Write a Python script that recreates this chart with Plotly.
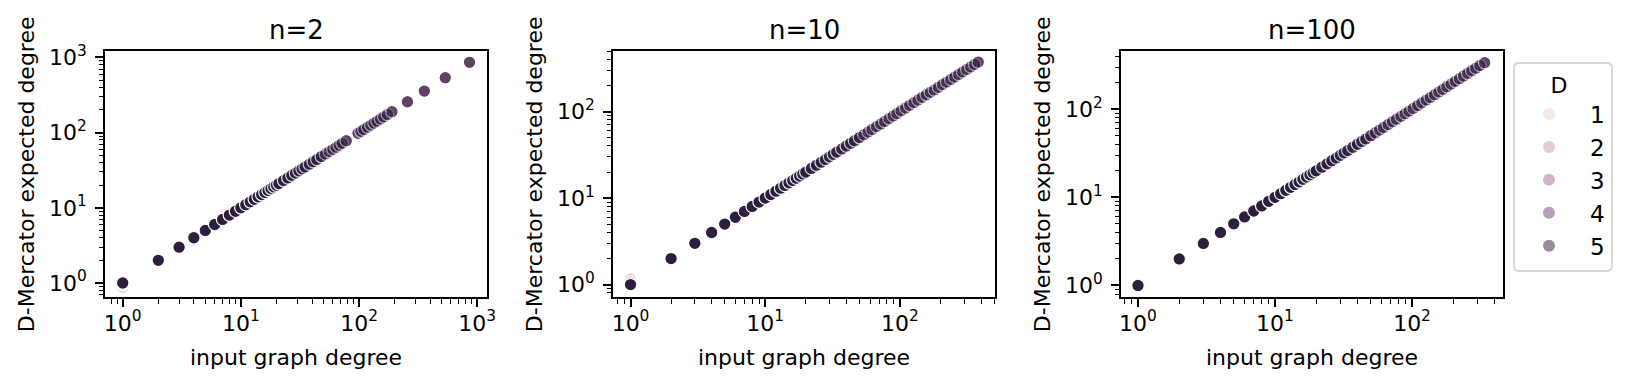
import plotly.graph_objects as go

# --- data (input degree -> D-Mercator expected degree) ---
D_values = [1, 2, 3, 4, 5]
panel_titles = ["n=2", "n=10", "n=100"]

# n = 2
deg_n2 = [1, 2, 3, 4, 5, 6, 7, 8, 9, 10, 11, 12, 13, 14, 15, 16, 17, 18, 19, 20,
          21, 23, 25, 27, 29, 31, 33, 35, 38, 41, 44, 48, 52, 56, 60, 64, 68, 72, 78,
          98, 104, 110, 118, 126, 134, 142, 152, 162, 174, 190, 257, 357, 537, 861]
nodes_n2 = [60, 40, 30, 24, 18, 15, 12, 10, 9, 8, 7, 6, 6, 5, 5, 4, 4, 4, 3, 3,
            3, 3, 3, 2, 2, 2, 2, 2, 2, 2, 2, 2, 1, 1, 1, 1, 1, 1, 1,
            1, 1, 1, 1, 1, 1, 1, 1, 1, 1, 1, 1, 1, 1, 1]
exp_n2_D1 = [0.88, 1.84, 2.96, 3.65, 4.9, 5.9, 6.9, 7.9, 8.9, 9.9, 10.9, 11.9, 12.9, 13.8, 14.8, 15.8, 16.8, 17.8, 18.8, 19.8,
             20.8, 22.7, 24.7, 26.7, 28.7, 30.6, 32.6, 34.6, 37.5, 40.5, 43.5, 47.4, 51.4, 55.4, 59.3, 63.3, 67.3, 71.2, 77.2,
             97, 103, 109, 117, 125, 133, 141, 151, 161, 173, 189, 256, 356, 536, 860]
exp_n2_D2 = [0.96, 1.93, 2.98, 3.82, 4.95, 5.95, 6.95, 7.95, 8.95, 9.95, 10.9, 11.9, 12.9, 13.9, 14.9, 15.9, 16.9, 17.9, 18.9, 19.9,
             20.9, 22.9, 24.8, 26.8, 28.8, 30.8, 32.8, 34.8, 37.8, 40.8, 43.7, 47.7, 51.7, 55.6, 59.6, 63.6, 67.6, 71.5, 77.5,
             97.5, 103, 109, 117, 125, 133, 141, 151, 161, 173, 189, 256, 356, 536, 860]
exp_n2_D3 = [0.99, 1.98, 2.99, 3.95, 4.98, 5.98, 6.98, 7.98, 8.97, 9.97, 10.97, 11.97, 12.97, 13.96, 14.96, 15.96, 16.96, 17.95, 18.95, 19.95,
             20.95, 22.95, 24.9, 26.9, 28.9, 30.9, 32.9, 34.9, 37.9, 40.9, 43.9, 47.8, 51.8, 55.8, 59.8, 63.8, 67.8, 71.8, 77.7,
             97.7, 103.6, 109.6, 117.5, 125.5, 133.5, 141.5, 151.4, 161.4, 173.4, 189.3, 256, 356, 536, 860]
exp_n2_D4 = [1, 1.99, 3, 3.98, 4.99, 5.99, 6.99, 7.99, 8.99, 9.99, 10.99, 11.99, 12.99, 13.99, 14.99, 15.99, 16.98, 17.98, 18.98, 19.98,
             20.98, 22.98, 24.97, 26.97, 28.97, 30.97, 32.96, 34.96, 37.96, 40.96, 43.95, 47.95, 51.95, 55.94, 59.94, 63.93, 67.93, 71.93, 77.9,
             97.9, 103.9, 109.9, 117.8, 125.8, 133.8, 141.8, 151.7, 161.7, 173.7, 189.6, 256.5, 356.5, 536.5, 860.5]
exp_n2_D5 = [1, 2, 3, 4, 5, 6, 7, 8, 9, 10, 11, 12, 13, 14, 15, 16, 17, 18, 19, 20,
             21, 23, 25, 27, 29, 31, 33, 35, 38, 41, 44, 48, 52, 56, 60, 64, 68, 72, 78,
             98, 104, 110, 118, 126, 134, 142, 152, 162, 174, 190, 257, 357, 537, 861]

# n = 10
deg_n10 = [1, 2, 3, 4, 5, 6, 7, 8, 9, 10, 11, 12, 13, 14, 15, 16, 17, 18, 19, 20,
           22, 24, 26, 28, 30, 32, 34, 37, 40, 43, 46, 50, 54, 58, 62, 67, 72,
           77, 83, 89, 95, 102, 110, 118, 127, 136, 146, 157, 168, 180, 193, 207, 222, 238, 255, 273, 292,
           313, 335, 358, 381]
nodes_n10 = [60, 40, 30, 24, 18, 15, 12, 10, 9, 8, 7, 6, 6, 5, 5, 4, 4, 4, 3, 3,
             3, 3, 3, 2, 2, 2, 2, 2, 2, 2, 2, 2, 1, 1, 1, 1, 1,
             1, 1, 1, 1, 1, 1, 1, 1, 1, 1, 1, 1, 1, 1, 1, 1, 1, 1, 1, 1,
             1, 1, 1, 1]
exp_n10_D1 = [1.16, 2.03, 3.01, 4, 5, 6, 7, 8, 9, 10, 11, 12, 13, 14, 15, 16, 17, 18, 19, 20,
              22, 24, 26, 28, 30, 32, 34, 37, 40, 43, 46, 50, 54, 58, 62, 67, 72,
              77, 83, 89, 95, 101, 109, 117, 125, 134, 144, 155, 165, 177, 189, 203, 217, 233, 249, 267, 285,
              305, 326, 348, 370]
exp_n10_D2 = [1.07, 2.01, 3, 4, 5, 6, 7, 8, 9, 10, 11, 12, 13, 14, 15, 16, 17, 18, 19, 20,
              22, 24, 26, 28, 30, 32, 34, 37, 40, 43, 46, 50, 54, 58, 62, 67, 72,
              77, 83, 89, 95, 101, 109, 117, 126, 135, 145, 155, 166, 178, 190, 204, 218, 234, 250, 268, 286,
              306, 327, 349, 371]
exp_n10_D3 = [1.01, 2, 3, 4, 5, 6, 7, 8, 9, 10, 11, 12, 13, 14, 15, 16, 17, 18, 19, 20,
              22, 24, 26, 28, 30, 32, 34, 37, 40, 43, 46, 50, 54, 58, 62, 67, 72,
              77, 83, 89, 95, 102, 109, 117, 126, 135, 145, 156, 166, 178, 190, 204, 219, 234, 251, 268, 287,
              307, 328, 350, 372]
exp_n10_D4 = [1, 2, 3, 4, 5, 6, 7, 8, 9, 10, 11, 12, 13, 14, 15, 16, 17, 18, 19, 20,
              22, 24, 26, 28, 30, 32, 34, 37, 40, 43, 46, 50, 54, 58, 62, 67, 72,
              77, 83, 89, 95, 102, 110, 118, 127, 136, 146, 157, 168, 179, 192, 206, 220, 236, 253, 271, 289,
              309, 331, 353, 376]
exp_n10_D5 = [1, 2, 3, 4, 5, 6, 7, 8, 9, 10, 11, 12, 13, 14, 15, 16, 17, 18, 19, 20,
              22, 24, 26, 28, 30, 32, 34, 37, 40, 43, 46, 50, 54, 58, 62, 67, 72,
              77, 83, 89, 95, 102, 110, 118, 127, 136, 146, 156, 167, 178, 191, 205, 219, 235, 251, 269, 287,
              307, 328, 350, 373]

# n = 100
deg_n100 = [1, 2, 3, 4, 5, 6, 7, 8, 9, 10, 11, 12, 13, 14, 15, 16, 17, 18, 19, 20,
            22, 24, 26, 28, 30, 32, 34, 37, 40, 43, 46, 50, 54, 58, 62, 67, 72,
            77, 83, 89, 95, 102, 110, 118, 127, 136, 146, 157, 168, 180, 193, 207, 222, 238, 255, 273, 292,
            313, 339]
nodes_n100 = [60, 40, 30, 24, 18, 15, 12, 10, 9, 8, 7, 6, 6, 5, 5, 4, 4, 4, 3, 3,
              3, 3, 3, 2, 2, 2, 2, 2, 2, 2, 2, 2, 1, 1, 1, 1, 1,
              1, 1, 1, 1, 1, 1, 1, 1, 1, 1, 1, 1, 1, 1, 1, 1, 1, 1, 1, 1,
              1, 1]
exp_n100_D1 = [1, 2, 2.8, 3.96, 4.97, 5.97, 6.97, 7.97, 8.96, 9.96, 10.96, 11.95, 12.95, 13.95, 14.95, 15.94, 16.94, 17.94, 18.93, 19.93,
               21.9, 23.9, 25.9, 27.9, 29.9, 31.9, 33.8, 36.8, 39.8, 42.8, 45.8, 49.7, 53.7, 57.7, 61.6, 66.6, 71.5,
               76.5, 82.4, 88.4, 94.3, 101, 109, 117, 126, 135, 145, 156, 167, 179, 192, 206, 221, 237, 253, 271, 290,
               311, 336]
exp_n100_D2 = [1, 2, 2.92, 3.98, 4.98, 5.98, 6.98, 7.98, 8.98, 9.98, 10.98, 11.97, 12.97, 13.97, 14.97, 15.97, 16.97, 17.97, 18.96, 19.96,
               21.96, 23.95, 25.95, 27.95, 29.95, 31.94, 33.94, 36.9, 39.9, 42.9, 45.9, 49.9, 53.8, 57.8, 61.8, 66.8, 71.7,
               76.7, 82.7, 88.6, 94.6, 101.5, 109.5, 117.4, 126.4, 135.3, 145.3, 156.2, 167.2, 179.1, 192, 206, 221, 237, 254, 272, 291,
               312, 337]
exp_n100_D3 = [1, 2, 2.98, 3.99, 4.99, 5.99, 6.99, 7.99, 8.99, 9.99, 10.99, 11.99, 12.99, 13.99, 14.98, 15.98, 16.98, 17.98, 18.98, 19.98,
               21.98, 23.98, 25.97, 27.97, 29.97, 31.97, 33.97, 36.96, 39.96, 42.96, 45.95, 49.95, 53.94, 57.94, 61.93, 66.93, 71.92,
               76.91, 82.9, 88.9, 94.9, 101.8, 109.8, 117.7, 126.7, 135.6, 145.6, 156.5, 167.5, 179.4, 192.3, 206.2, 221.1, 237, 254, 272, 291,
               312, 337]
exp_n100_D4 = [1, 2, 3, 4, 5, 6, 7, 8, 9, 10, 11, 12, 13, 14, 15, 16, 17, 18, 19, 20,
               22, 24, 26, 28, 30, 32, 34, 37, 40, 43, 46, 50, 54, 58, 62, 67, 72,
               77, 83, 89, 95, 102, 110, 118, 127, 136, 146, 157, 168, 180, 193, 207, 222, 238, 255, 273, 292,
               313, 338]
exp_n100_D5 = [1, 2, 3, 4, 5, 6, 7, 8, 9, 10, 11, 12, 13, 14, 15, 16, 17, 18, 19, 20,
               22, 24, 26, 28, 30, 32, 34, 37, 40, 43, 46, 50, 54, 58, 62, 67, 72,
               77, 83, 89, 95, 102, 110, 118, 127, 136, 146, 157, 168, 180, 193, 207, 222, 238, 255, 273, 292,
               313, 337]

# seaborn default cubehelix colours for hue D=1..5
D_colors = ["#edd1cb", "#d499a7", "#aa678f", "#6e4071", "#2d1e3e"]

panels = [
    (deg_n2, nodes_n2, [exp_n2_D1, exp_n2_D2, exp_n2_D3, exp_n2_D4, exp_n2_D5]),
    (deg_n10, nodes_n10, [exp_n10_D1, exp_n10_D2, exp_n10_D3, exp_n10_D4, exp_n10_D5]),
    (deg_n100, nodes_n100, [exp_n100_D1, exp_n100_D2, exp_n100_D3, exp_n100_D4, exp_n100_D5]),
]
for deg, nodes, ys in panels:
    assert len(deg) == len(nodes)
    for y in ys:
        assert len(y) == len(deg)

W, H = 1628, 387
FONT = "DejaVu Sans"
ALPHA = 0.5

# axes frames in pixels (left, right) and shared top/bottom
frames = [(105, 487), (613, 995), (1121, 1503)]
top_px, bot_px = 51, 297.3
xranges = [[-0.15, 3.083], [-0.13, 2.705], [-0.124, 2.664]]
yranges = [[-0.19, 3.085], [-0.147, 2.70], [-0.134, 2.66]]

fig = go.Figure()

for p, (deg, nodes, ys) in enumerate(panels):
    ax = "" if p == 0 else str(p + 1)
    # n stacked identical points at alpha 0.5 -> one point at 1 - 0.5**n
    op = [1 - (1 - ALPHA) ** k for k in nodes]
    for d, y, c in zip(D_values, ys, D_colors):
        fig.add_trace(go.Scatter(
            x=deg, y=y, mode="markers", showlegend=False,
            xaxis="x" + ax, yaxis="y" + ax,
            marker=dict(color=c, size=12.5, opacity=op, line=dict(color="white", width=1.2)),
            hoverinfo="skip",
        ))

# legend entries
for d, c in zip(D_values, D_colors):
    fig.add_trace(go.Scatter(
        x=[None], y=[None], mode="markers", name=str(d), xaxis="x3", yaxis="y3",
        marker=dict(color=c, size=12, opacity=ALPHA, line=dict(width=0)),
    ))

major = [1, 10, 100, 1000]
major_txt = ["10<sup>0</sup>", "10<sup>1</sup>", "10<sup>2</sup>", "10<sup>3</sup>"]
minor_vals = [m * 10.0 ** k for k in range(-1, 4) for m in range(2, 10)]

layout = dict(
    template="none",
    width=W, height=H, margin=dict(l=0, r=0, t=0, b=0, autoexpand=False),
    paper_bgcolor="white", plot_bgcolor="white",
    font=dict(family=FONT, size=22, color="black"),
    showlegend=True,
    legend=dict(x=1508 / W, y=1 - 64 / H, xanchor="left", yanchor="top",
                bgcolor="rgba(0,0,0,0)", borderwidth=0,
                title=dict(text="D", side="top center", font=dict(size=22)),
                font=dict(size=23), itemwidth=72),
)

annotations = []
for p, (l, r) in enumerate(frames):
    ax = "" if p == 0 else str(p + 1)
    axis_common = dict(
        type="log", showgrid=False, zeroline=False, automargin=False,
        showline=True, linecolor="black", linewidth=1.8, mirror=True,
        ticks="outside", ticklen=8, tickwidth=1.8, tickcolor="black",
        tickvals=major, ticktext=major_txt, tickfont=dict(size=22),
        minor=dict(ticks="outside", ticklen=4.5, tickwidth=1.3, tickcolor="black",
                   tickvals=minor_vals, showgrid=False),
    )
    layout["xaxis" + ax] = dict(axis_common, domain=[l / W, r / W], range=xranges[p],
                                anchor="y" + ax, ticklabelstandoff=-3)
    layout["yaxis" + ax] = dict(axis_common, domain=[1 - bot_px / H, 1 - top_px / H],
                                range=yranges[p], anchor="x" + ax, ticklabelstandoff=4)
    cx = (l + r) / 2
    annotations.append(dict(text=panel_titles[p], x=cx / W, y=1 - 30 / H, xref="paper", yref="paper",
                            showarrow=False, font=dict(size=26), xanchor="center", yanchor="middle"))
    annotations.append(dict(text="input graph degree", x=cx / W, y=1 - 357 / H, xref="paper", yref="paper",
                            showarrow=False, font=dict(size=22), xanchor="center", yanchor="middle"))
    annotations.append(dict(text="D-Mercator expected degree", x=(l - 79) / W, y=1 - (top_px + bot_px) / 2 / H,
                            xref="paper", yref="paper", showarrow=False, textangle=-90,
                            font=dict(size=22), xanchor="center", yanchor="middle"))
layout["annotations"] = annotations

# rounded legend frame
x0, x1, y0, y1, rad = 1514, 1612, 63, 271, 5
def P(px, py):
    return f"{px / W:.5f},{1 - py / H:.5f}"
path = (f"M {P(x0 + rad, y0)} L {P(x1 - rad, y0)} Q {P(x1, y0)} {P(x1, y0 + rad)} "
        f"L {P(x1, y1 - rad)} Q {P(x1, y1)} {P(x1 - rad, y1)} "
        f"L {P(x0 + rad, y1)} Q {P(x0, y1)} {P(x0, y1 - rad)} "
        f"L {P(x0, y0 + rad)} Q {P(x0, y0)} {P(x0 + rad, y0)} Z")
layout["shapes"] = [dict(type="path", path=path, xref="paper", yref="paper",
                         line=dict(color="#d6d6d6", width=1.8), fillcolor="white", layer="below")]

fig.update_layout(**layout)
# page body margin would offset the figure by 8px
fig.write_html("out.html", config={"displayModeBar": False},
               post_script="document.body.style.margin='0';")
